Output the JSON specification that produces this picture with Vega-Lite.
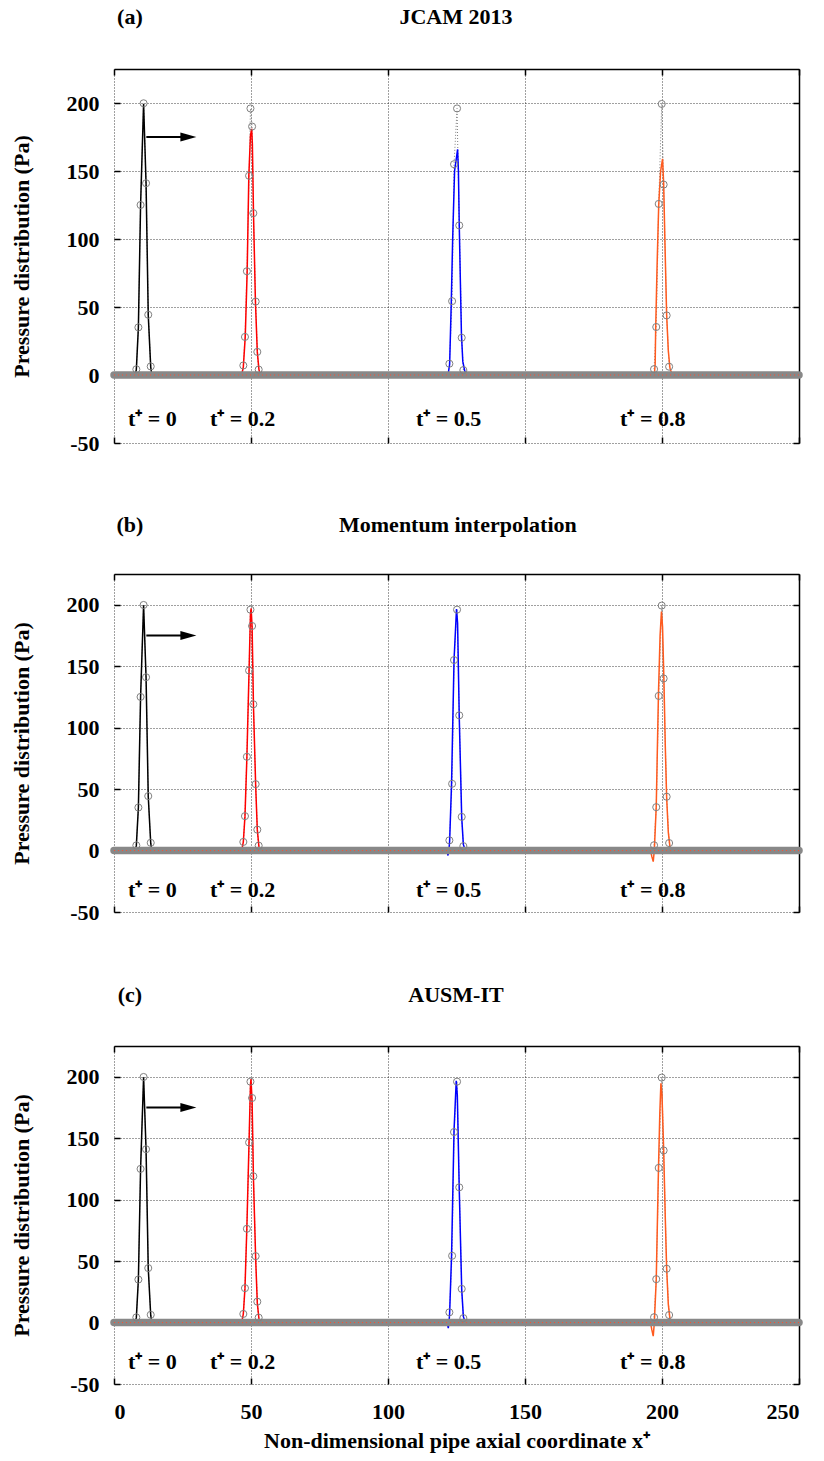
{
  "$schema": "https://vega.github.io/schema/vega-lite/v6.json",
  "background": "white",
  "padding": {"left": 10, "top": 6, "right": 12, "bottom": 4},
  "spacing": 60,
  "config": {
    "font": "Liberation Serif",
    "view": {"stroke": null},
    "axis": {
      "labelFont": "Liberation Serif", "labelFontSize": 22, "labelFontWeight": "bold", "labelColor": "#000",
      "titleFont": "Liberation Serif", "titleFontSize": 22, "titleFontWeight": "bold", "titleColor": "#000",
      "tickColor": "#000", "tickWidth": 1.5, "tickSize": -6,
      "gridColor": "#000", "gridDash": [1, 2], "gridWidth": 1, "gridOpacity": 0.75,
      "domainColor": "#000", "domainWidth": 1.5
    },
    "text": {"font": "Liberation Serif", "fontWeight": "bold", "fontSize": 22, "color": "#000"}
  },
  "datasets": {
    "circ": [
      {"g": "k", "x": 8.15, "y": 4.2}, {"g": "k", "x": 8.9, "y": 35}, {"g": "k", "x": 9.7, "y": 125}, {"g": "k", "x": 10.8, "y": 199.8}, {"g": "k", "x": 11.7, "y": 141}, {"g": "k", "x": 12.5, "y": 44.3}, {"g": "k", "x": 13.4, "y": 6.3},
      {"g": "r", "x": 47.2, "y": 7}, {"g": "r", "x": 47.8, "y": 28}, {"g": "r", "x": 48.5, "y": 76.3}, {"g": "r", "x": 49.3, "y": 146.5}, {"g": "r", "x": 49.8, "y": 196}, {"g": "r", "x": 50.4, "y": 182.7}, {"g": "r", "x": 50.85, "y": 119}, {"g": "r", "x": 51.7, "y": 54}, {"g": "r", "x": 52.3, "y": 17}, {"g": "r", "x": 52.8, "y": 4},
      {"g": "b", "x": 122.4, "y": 8.3}, {"g": "b", "x": 123.4, "y": 54.3}, {"g": "b", "x": 124.1, "y": 155}, {"g": "b", "x": 125.2, "y": 196}, {"g": "b", "x": 126.0, "y": 110}, {"g": "b", "x": 126.9, "y": 27.4}, {"g": "b", "x": 127.5, "y": 3.6},
      {"g": "o", "x": 197.1, "y": 4.3}, {"g": "o", "x": 197.9, "y": 35.3}, {"g": "o", "x": 198.8, "y": 125.8}, {"g": "o", "x": 199.9, "y": 199.3}, {"g": "o", "x": 200.6, "y": 140}, {"g": "o", "x": 201.7, "y": 43.8}, {"g": "o", "x": 202.6, "y": 6.1}
    ],
    "la": [
      {"s": "k", "x": 7.7, "y": 0}, {"s": "k", "x": 8.15, "y": 4}, {"s": "k", "x": 8.9, "y": 35}, {"s": "k", "x": 9.7, "y": 125}, {"s": "k", "x": 10.8, "y": 199.5}, {"s": "k", "x": 11.7, "y": 141}, {"s": "k", "x": 12.5, "y": 44}, {"s": "k", "x": 13.4, "y": 6}, {"s": "k", "x": 13.8, "y": 0},
      {"s": "r", "x": 46.6, "y": 0}, {"s": "r", "x": 47.2, "y": 6}, {"s": "r", "x": 47.9, "y": 28}, {"s": "r", "x": 48.6, "y": 76}, {"s": "r", "x": 49.2, "y": 146}, {"s": "r", "x": 49.8, "y": 176}, {"s": "r", "x": 50.25, "y": 181}, {"s": "r", "x": 50.5, "y": 170}, {"s": "r", "x": 50.9, "y": 120}, {"s": "r", "x": 51.6, "y": 55}, {"s": "r", "x": 52.3, "y": 17}, {"s": "r", "x": 52.9, "y": 4}, {"s": "r", "x": 53.4, "y": 0},
      {"s": "b", "x": 121.9, "y": 0}, {"s": "b", "x": 122.5, "y": 8}, {"s": "b", "x": 123.1, "y": 54}, {"s": "b", "x": 123.6, "y": 100}, {"s": "b", "x": 124.3, "y": 150}, {"s": "b", "x": 125.4, "y": 166}, {"s": "b", "x": 125.7, "y": 150}, {"s": "b", "x": 126.0, "y": 111}, {"s": "b", "x": 126.4, "y": 70}, {"s": "b", "x": 126.8, "y": 30}, {"s": "b", "x": 127.3, "y": 10}, {"s": "b", "x": 128.0, "y": 3}, {"s": "b", "x": 128.8, "y": 0},
      {"s": "o", "x": 197.2, "y": 0}, {"s": "o", "x": 197.5, "y": 8}, {"s": "o", "x": 197.7, "y": 35}, {"s": "o", "x": 198.2, "y": 80}, {"s": "o", "x": 198.8, "y": 125}, {"s": "o", "x": 199.5, "y": 150}, {"s": "o", "x": 200.2, "y": 159}, {"s": "o", "x": 200.6, "y": 141}, {"s": "o", "x": 201.1, "y": 95}, {"s": "o", "x": 201.7, "y": 44}, {"s": "o", "x": 202.3, "y": 18}, {"s": "o", "x": 202.9, "y": 5}, {"s": "o", "x": 203.6, "y": 1}, {"s": "o", "x": 204.5, "y": 0}
    ],
    "lb": [
      {"s": "k", "x": 7.7, "y": 0}, {"s": "k", "x": 8.15, "y": 4}, {"s": "k", "x": 8.9, "y": 35}, {"s": "k", "x": 9.7, "y": 125}, {"s": "k", "x": 10.8, "y": 199.5}, {"s": "k", "x": 11.7, "y": 141}, {"s": "k", "x": 12.5, "y": 44}, {"s": "k", "x": 13.4, "y": 6}, {"s": "k", "x": 13.8, "y": 0},
      {"s": "r", "x": 46.6, "y": 0}, {"s": "r", "x": 47.2, "y": 7}, {"s": "r", "x": 47.8, "y": 28}, {"s": "r", "x": 48.5, "y": 76}, {"s": "r", "x": 49.3, "y": 147}, {"s": "r", "x": 49.8, "y": 192}, {"s": "r", "x": 50.05, "y": 197}, {"s": "r", "x": 50.4, "y": 182}, {"s": "r", "x": 50.9, "y": 118}, {"s": "r", "x": 51.7, "y": 53}, {"s": "r", "x": 52.3, "y": 17}, {"s": "r", "x": 52.9, "y": 3}, {"s": "r", "x": 53.3, "y": 0},
      {"s": "b", "x": 121.5, "y": 0}, {"s": "b", "x": 121.9, "y": -4}, {"s": "b", "x": 122.3, "y": 2}, {"s": "b", "x": 122.5, "y": 8}, {"s": "b", "x": 123.2, "y": 55}, {"s": "b", "x": 124.1, "y": 155}, {"s": "b", "x": 125.0, "y": 196.5}, {"s": "b", "x": 125.4, "y": 185}, {"s": "b", "x": 126.0, "y": 109}, {"s": "b", "x": 126.9, "y": 27}, {"s": "b", "x": 127.5, "y": 5}, {"s": "b", "x": 128.2, "y": 0},
      {"s": "o", "x": 195.8, "y": 0}, {"s": "o", "x": 196.3, "y": -5}, {"s": "o", "x": 196.8, "y": -9}, {"s": "o", "x": 197.1, "y": -2}, {"s": "o", "x": 197.3, "y": 5}, {"s": "o", "x": 197.9, "y": 36}, {"s": "o", "x": 198.7, "y": 127}, {"s": "o", "x": 199.3, "y": 175}, {"s": "o", "x": 199.8, "y": 194.5}, {"s": "o", "x": 200.2, "y": 182}, {"s": "o", "x": 200.7, "y": 139}, {"s": "o", "x": 201.2, "y": 85}, {"s": "o", "x": 201.7, "y": 43}, {"s": "o", "x": 202.3, "y": 15}, {"s": "o", "x": 202.9, "y": 3}, {"s": "o", "x": 203.5, "y": 0}
    ],
    "lc": [
      {"s": "k", "x": 7.7, "y": 0}, {"s": "k", "x": 8.15, "y": 4}, {"s": "k", "x": 8.9, "y": 35}, {"s": "k", "x": 9.7, "y": 125}, {"s": "k", "x": 10.8, "y": 199.5}, {"s": "k", "x": 11.7, "y": 141}, {"s": "k", "x": 12.5, "y": 44}, {"s": "k", "x": 13.4, "y": 6}, {"s": "k", "x": 13.8, "y": 0},
      {"s": "r", "x": 46.6, "y": 0}, {"s": "r", "x": 47.2, "y": 7}, {"s": "r", "x": 47.8, "y": 28}, {"s": "r", "x": 48.5, "y": 78}, {"s": "r", "x": 49.3, "y": 148}, {"s": "r", "x": 49.8, "y": 193}, {"s": "r", "x": 50.0, "y": 198}, {"s": "r", "x": 50.4, "y": 180}, {"s": "r", "x": 50.9, "y": 117}, {"s": "r", "x": 51.7, "y": 52}, {"s": "r", "x": 52.3, "y": 16}, {"s": "r", "x": 52.9, "y": 3}, {"s": "r", "x": 53.3, "y": 0},
      {"s": "b", "x": 121.6, "y": 0}, {"s": "b", "x": 122.0, "y": -4.6}, {"s": "b", "x": 122.3, "y": 1}, {"s": "b", "x": 122.5, "y": 8}, {"s": "b", "x": 123.2, "y": 55}, {"s": "b", "x": 124.1, "y": 156}, {"s": "b", "x": 124.9, "y": 196.7}, {"s": "b", "x": 125.3, "y": 185}, {"s": "b", "x": 126.0, "y": 109}, {"s": "b", "x": 126.9, "y": 27}, {"s": "b", "x": 127.5, "y": 5}, {"s": "b", "x": 128.2, "y": 0},
      {"s": "o", "x": 195.8, "y": 0}, {"s": "o", "x": 196.3, "y": -6}, {"s": "o", "x": 196.8, "y": -11}, {"s": "o", "x": 197.1, "y": -3}, {"s": "o", "x": 197.3, "y": 5}, {"s": "o", "x": 197.9, "y": 35}, {"s": "o", "x": 198.7, "y": 124}, {"s": "o", "x": 199.2, "y": 170}, {"s": "o", "x": 199.6, "y": 194.6}, {"s": "o", "x": 200.0, "y": 185}, {"s": "o", "x": 200.6, "y": 141}, {"s": "o", "x": 201.2, "y": 85}, {"s": "o", "x": 201.7, "y": 44}, {"s": "o", "x": 202.3, "y": 15}, {"s": "o", "x": 202.9, "y": 3}, {"s": "o", "x": 203.4, "y": 0}
    ],
    "band": [{"x": 0, "y": 0}, {"x": 250, "y": 0}],
    "arrow": [{"x": 11.8, "y": 175}, {"x": 25, "y": 175}],
    "head": [{"x": 27.15, "y": 175}],
    "tl": [
      {"x": 5.1, "y": -32, "t": "t⁺ = 0"},
      {"x": 35, "y": -32, "t": "t⁺ = 0.2"},
      {"x": 110.2, "y": -32, "t": "t⁺ = 0.5"},
      {"x": 184.7, "y": -32, "t": "t⁺ = 0.8"}
    ],
    "ha": [{"x": 5.8, "y": 263, "t": "(a)"}, {"x": 124.8, "y": 263, "t": "JCAM 2013"}],
    "hb": [{"x": 5.8, "y": 264.7, "t": "(b)"}, {"x": 125.5, "y": 264.7, "t": "Momentum interpolation"}],
    "hc": [{"x": 5.8, "y": 266.7, "t": "(c)"}, {"x": 124.8, "y": 266.7, "t": "AUSM-IT"}]
  },
  "vconcat": [
    {
      "width": 685, "height": 374,
      "resolve": {"axis": {"x": "independent", "y": "independent"}},
      "layer": [
        {"data": {"name": "circ"}, "mark": {"type": "line", "color": "#808080", "strokeWidth": 1, "strokeDash": [1, 2]},
         "encoding": {"x": {"field": "x", "type": "quantitative", "scale": {"domain": [0, 250], "nice": false, "zero": false}, "axis": null},
                      "y": {"field": "y", "type": "quantitative", "scale": {"domain": [-50, 225], "nice": false, "zero": false}, "axis": null},
                      "detail": {"field": "g", "type": "nominal"}}},
        {"data": {"name": "la"}, "mark": {"type": "line", "strokeWidth": 1.5},
         "encoding": {"x": {"field": "x", "type": "quantitative", "scale": {"domain": [0, 250], "nice": false, "zero": false},
                            "axis": {"orient": "bottom", "values": [0, 50, 100, 150, 200, 250], "grid": true, "domain": false, "labels": false, "title": null}},
                      "y": {"field": "y", "type": "quantitative", "scale": {"domain": [-50, 225], "nice": false, "zero": false},
                            "axis": {"orient": "left", "values": [-50, 0, 50, 100, 150, 200], "grid": true, "domain": false, "labelPadding": 21, "title": "Pressure distribution (Pa)", "titlePadding": 33, "labelExpr": "datum.value < 0 ? '-' + abs(datum.value) : datum.label"}},
                      "color": {"field": "s", "type": "nominal", "scale": {"domain": ["k", "r", "b", "o"], "range": ["#000000", "#ff0000", "#0000ff", "#ff5a1e"]}, "legend": null}}},
        {"data": {"name": "band"}, "mark": {"type": "line", "color": "#888888", "strokeWidth": 7.5, "strokeCap": "round"},
         "encoding": {"x": {"field": "x", "type": "quantitative", "scale": {"domain": [0, 250], "nice": false, "zero": false},
                            "axis": {"orient": "top", "values": [0, 50, 100, 150, 200, 250], "grid": false, "domain": true, "labels": false, "title": null}},
                      "y": {"field": "y", "type": "quantitative", "scale": {"domain": [-50, 225], "nice": false, "zero": false},
                            "axis": {"orient": "right", "values": [-50, 0, 50, 100, 150, 200], "grid": false, "domain": true, "labels": false, "title": null}}}},
        {"data": {"name": "band"}, "mark": {"type": "line", "color": "#ff5030", "strokeWidth": 1, "strokeDash": [1, 3]},
         "encoding": {"x": {"field": "x", "type": "quantitative", "scale": {"domain": [0, 250], "nice": false, "zero": false}, "axis": null},
                      "y": {"field": "y", "type": "quantitative", "scale": {"domain": [-50, 225], "nice": false, "zero": false}, "axis": null}}},
        {"data": {"name": "circ"}, "mark": {"type": "point", "shape": "circle", "filled": false, "color": "#808080", "size": 50, "strokeWidth": 1, "opacity": 1},
         "encoding": {"x": {"field": "x", "type": "quantitative", "scale": {"domain": [0, 250], "nice": false, "zero": false}, "axis": null},
                      "y": {"field": "y", "type": "quantitative", "scale": {"domain": [-50, 225], "nice": false, "zero": false}, "axis": null}}},
        {"data": {"name": "arrow"}, "mark": {"type": "line", "color": "#000", "strokeWidth": 2},
         "encoding": {"x": {"field": "x", "type": "quantitative", "scale": {"domain": [0, 250], "nice": false, "zero": false}, "axis": null},
                      "y": {"field": "y", "type": "quantitative", "scale": {"domain": [-50, 225], "nice": false, "zero": false}, "axis": null}}},
        {"data": {"name": "head"}, "mark": {"type": "point", "shape": "M-1,-0.56L1,0L-1,0.56Z", "filled": true, "color": "#000", "size": 256, "opacity": 1},
         "encoding": {"x": {"field": "x", "type": "quantitative", "scale": {"domain": [0, 250], "nice": false, "zero": false}, "axis": null},
                      "y": {"field": "y", "type": "quantitative", "scale": {"domain": [-50, 225], "nice": false, "zero": false}, "axis": null}}},
        {"data": {"name": "tl"}, "mark": {"type": "text", "align": "left", "baseline": "middle"},
         "encoding": {"x": {"field": "x", "type": "quantitative", "scale": {"domain": [0, 250], "nice": false, "zero": false}, "axis": null},
                      "y": {"field": "y", "type": "quantitative", "scale": {"domain": [-50, 225], "nice": false, "zero": false}, "axis": null},
                      "text": {"field": "t"}}},
        {"data": {"name": "ha"}, "mark": {"type": "text", "align": "center", "baseline": "middle"},
         "encoding": {"x": {"field": "x", "type": "quantitative", "scale": {"domain": [0, 250], "nice": false, "zero": false}, "axis": null},
                      "y": {"field": "y", "type": "quantitative", "scale": {"domain": [-50, 225], "nice": false, "zero": false}, "axis": null},
                      "text": {"field": "t"}}}
      ]
    },
    {
      "width": 685, "height": 338,
      "resolve": {"axis": {"x": "independent", "y": "independent"}},
      "layer": [
        {"data": {"name": "circ"}, "mark": {"type": "line", "color": "#808080", "strokeWidth": 1, "strokeDash": [1, 2]},
         "encoding": {"x": {"field": "x", "type": "quantitative", "scale": {"domain": [0, 250], "nice": false, "zero": false}, "axis": null},
                      "y": {"field": "y", "type": "quantitative", "scale": {"domain": [-50, 225], "nice": false, "zero": false}, "axis": null},
                      "detail": {"field": "g", "type": "nominal"}}},
        {"data": {"name": "lb"}, "mark": {"type": "line", "strokeWidth": 1.5},
         "encoding": {"x": {"field": "x", "type": "quantitative", "scale": {"domain": [0, 250], "nice": false, "zero": false},
                            "axis": {"orient": "bottom", "values": [0, 50, 100, 150, 200, 250], "grid": true, "domain": false, "labels": false, "title": null}},
                      "y": {"field": "y", "type": "quantitative", "scale": {"domain": [-50, 225], "nice": false, "zero": false},
                            "axis": {"orient": "left", "values": [-50, 0, 50, 100, 150, 200], "grid": true, "domain": false, "labelPadding": 21, "title": "Pressure distribution (Pa)", "titlePadding": 33, "labelExpr": "datum.value < 0 ? '-' + abs(datum.value) : datum.label"}},
                      "color": {"field": "s", "type": "nominal", "scale": {"domain": ["k", "r", "b", "o"], "range": ["#000000", "#ff0000", "#0000ff", "#ff5a1e"]}, "legend": null}}},
        {"data": {"name": "band"}, "mark": {"type": "line", "color": "#888888", "strokeWidth": 7.5, "strokeCap": "round"},
         "encoding": {"x": {"field": "x", "type": "quantitative", "scale": {"domain": [0, 250], "nice": false, "zero": false},
                            "axis": {"orient": "top", "values": [0, 50, 100, 150, 200, 250], "grid": false, "domain": true, "labels": false, "title": null}},
                      "y": {"field": "y", "type": "quantitative", "scale": {"domain": [-50, 225], "nice": false, "zero": false},
                            "axis": {"orient": "right", "values": [-50, 0, 50, 100, 150, 200], "grid": false, "domain": true, "labels": false, "title": null}}}},
        {"data": {"name": "band"}, "mark": {"type": "line", "color": "#ff5030", "strokeWidth": 1, "strokeDash": [1, 3]},
         "encoding": {"x": {"field": "x", "type": "quantitative", "scale": {"domain": [0, 250], "nice": false, "zero": false}, "axis": null},
                      "y": {"field": "y", "type": "quantitative", "scale": {"domain": [-50, 225], "nice": false, "zero": false}, "axis": null}}},
        {"data": {"name": "circ"}, "mark": {"type": "point", "shape": "circle", "filled": false, "color": "#808080", "size": 50, "strokeWidth": 1, "opacity": 1},
         "encoding": {"x": {"field": "x", "type": "quantitative", "scale": {"domain": [0, 250], "nice": false, "zero": false}, "axis": null},
                      "y": {"field": "y", "type": "quantitative", "scale": {"domain": [-50, 225], "nice": false, "zero": false}, "axis": null}}},
        {"data": {"name": "arrow"}, "mark": {"type": "line", "color": "#000", "strokeWidth": 2},
         "encoding": {"x": {"field": "x", "type": "quantitative", "scale": {"domain": [0, 250], "nice": false, "zero": false}, "axis": null},
                      "y": {"field": "y", "type": "quantitative", "scale": {"domain": [-50, 225], "nice": false, "zero": false}, "axis": null}}},
        {"data": {"name": "head"}, "mark": {"type": "point", "shape": "M-1,-0.56L1,0L-1,0.56Z", "filled": true, "color": "#000", "size": 256, "opacity": 1},
         "encoding": {"x": {"field": "x", "type": "quantitative", "scale": {"domain": [0, 250], "nice": false, "zero": false}, "axis": null},
                      "y": {"field": "y", "type": "quantitative", "scale": {"domain": [-50, 225], "nice": false, "zero": false}, "axis": null}}},
        {"data": {"name": "tl"}, "mark": {"type": "text", "align": "left", "baseline": "middle"},
         "encoding": {"x": {"field": "x", "type": "quantitative", "scale": {"domain": [0, 250], "nice": false, "zero": false}, "axis": null},
                      "y": {"field": "y", "type": "quantitative", "scale": {"domain": [-50, 225], "nice": false, "zero": false}, "axis": null},
                      "text": {"field": "t"}}},
        {"data": {"name": "hb"}, "mark": {"type": "text", "align": "center", "baseline": "middle"},
         "encoding": {"x": {"field": "x", "type": "quantitative", "scale": {"domain": [0, 250], "nice": false, "zero": false}, "axis": null},
                      "y": {"field": "y", "type": "quantitative", "scale": {"domain": [-50, 225], "nice": false, "zero": false}, "axis": null},
                      "text": {"field": "t"}}}
      ]
    },
    {
      "width": 685, "height": 338,
      "resolve": {"axis": {"x": "independent", "y": "independent"}},
      "layer": [
        {"data": {"name": "circ"}, "mark": {"type": "line", "color": "#808080", "strokeWidth": 1, "strokeDash": [1, 2]},
         "encoding": {"x": {"field": "x", "type": "quantitative", "scale": {"domain": [0, 250], "nice": false, "zero": false}, "axis": null},
                      "y": {"field": "y", "type": "quantitative", "scale": {"domain": [-50, 225], "nice": false, "zero": false}, "axis": null},
                      "detail": {"field": "g", "type": "nominal"}}},
        {"data": {"name": "lc"}, "mark": {"type": "line", "strokeWidth": 1.5},
         "encoding": {"x": {"field": "x", "type": "quantitative", "scale": {"domain": [0, 250], "nice": false, "zero": false},
                            "axis": {"orient": "bottom", "values": [0, 50, 100, 150, 200, 250], "grid": true, "domain": false, "labels": true, "labelPadding": 23, "title": "Non-dimensional pipe axial coordinate x⁺", "titlePadding": 8}},
                      "y": {"field": "y", "type": "quantitative", "scale": {"domain": [-50, 225], "nice": false, "zero": false},
                            "axis": {"orient": "left", "values": [-50, 0, 50, 100, 150, 200], "grid": true, "domain": false, "labelPadding": 21, "title": "Pressure distribution (Pa)", "titlePadding": 33, "labelExpr": "datum.value < 0 ? '-' + abs(datum.value) : datum.label"}},
                      "color": {"field": "s", "type": "nominal", "scale": {"domain": ["k", "r", "b", "o"], "range": ["#000000", "#ff0000", "#0000ff", "#ff5a1e"]}, "legend": null}}},
        {"data": {"name": "band"}, "mark": {"type": "line", "color": "#888888", "strokeWidth": 7.5, "strokeCap": "round"},
         "encoding": {"x": {"field": "x", "type": "quantitative", "scale": {"domain": [0, 250], "nice": false, "zero": false},
                            "axis": {"orient": "top", "values": [0, 50, 100, 150, 200, 250], "grid": false, "domain": true, "labels": false, "title": null}},
                      "y": {"field": "y", "type": "quantitative", "scale": {"domain": [-50, 225], "nice": false, "zero": false},
                            "axis": {"orient": "right", "values": [-50, 0, 50, 100, 150, 200], "grid": false, "domain": true, "labels": false, "title": null}}}},
        {"data": {"name": "band"}, "mark": {"type": "line", "color": "#ff5030", "strokeWidth": 1, "strokeDash": [1, 3]},
         "encoding": {"x": {"field": "x", "type": "quantitative", "scale": {"domain": [0, 250], "nice": false, "zero": false}, "axis": null},
                      "y": {"field": "y", "type": "quantitative", "scale": {"domain": [-50, 225], "nice": false, "zero": false}, "axis": null}}},
        {"data": {"name": "circ"}, "mark": {"type": "point", "shape": "circle", "filled": false, "color": "#808080", "size": 50, "strokeWidth": 1, "opacity": 1},
         "encoding": {"x": {"field": "x", "type": "quantitative", "scale": {"domain": [0, 250], "nice": false, "zero": false}, "axis": null},
                      "y": {"field": "y", "type": "quantitative", "scale": {"domain": [-50, 225], "nice": false, "zero": false}, "axis": null}}},
        {"data": {"name": "arrow"}, "mark": {"type": "line", "color": "#000", "strokeWidth": 2},
         "encoding": {"x": {"field": "x", "type": "quantitative", "scale": {"domain": [0, 250], "nice": false, "zero": false}, "axis": null},
                      "y": {"field": "y", "type": "quantitative", "scale": {"domain": [-50, 225], "nice": false, "zero": false}, "axis": null}}},
        {"data": {"name": "head"}, "mark": {"type": "point", "shape": "M-1,-0.56L1,0L-1,0.56Z", "filled": true, "color": "#000", "size": 256, "opacity": 1},
         "encoding": {"x": {"field": "x", "type": "quantitative", "scale": {"domain": [0, 250], "nice": false, "zero": false}, "axis": null},
                      "y": {"field": "y", "type": "quantitative", "scale": {"domain": [-50, 225], "nice": false, "zero": false}, "axis": null}}},
        {"data": {"name": "tl"}, "mark": {"type": "text", "align": "left", "baseline": "middle"},
         "encoding": {"x": {"field": "x", "type": "quantitative", "scale": {"domain": [0, 250], "nice": false, "zero": false}, "axis": null},
                      "y": {"field": "y", "type": "quantitative", "scale": {"domain": [-50, 225], "nice": false, "zero": false}, "axis": null},
                      "text": {"field": "t"}}},
        {"data": {"name": "hc"}, "mark": {"type": "text", "align": "center", "baseline": "middle"},
         "encoding": {"x": {"field": "x", "type": "quantitative", "scale": {"domain": [0, 250], "nice": false, "zero": false}, "axis": null},
                      "y": {"field": "y", "type": "quantitative", "scale": {"domain": [-50, 225], "nice": false, "zero": false}, "axis": null},
                      "text": {"field": "t"}}}
      ]
    }
  ]
}
